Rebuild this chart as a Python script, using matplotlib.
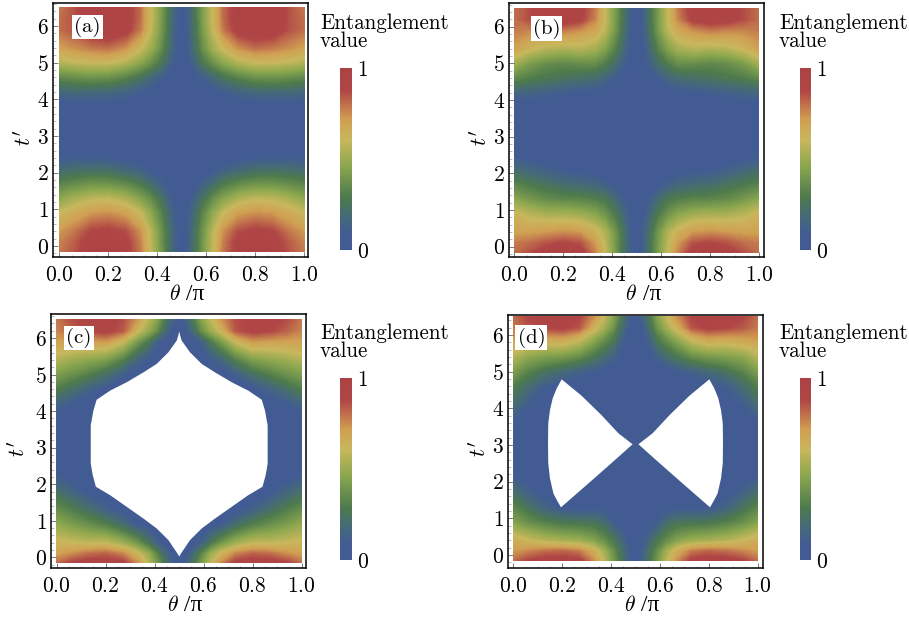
import numpy as np
import matplotlib
matplotlib.use('Agg')
from matplotlib import pyplot as plt
from matplotlib.colors import LinearSegmentedColormap
from matplotlib.cm import ScalarMappable
from matplotlib.ticker import MultipleLocator

plt.rcParams['font.family'] = ['cmr10', 'Liberation Serif']
plt.rcParams['mathtext.fontset'] = 'cm'
plt.rcParams['axes.formatter.use_mathtext'] = True
plt.rcParams['axes.unicode_minus'] = False

# grid, left half only (the panels mirror around theta = 0.5)
theta = [0, .06, .13, .2, .27, .33, .37, .41, .44, .47, .5]
t = [-.15, .1, .4, .9, 1.3, 1.7, 2.1, 2.5, 3.14, 3.8, 4.2, 4.6, 5.0, 5.4, 5.9, 6.2, 6.5]

valores_a = [
    [.78, .84, .94, .96, .92, .78, .60, .42, .27, .13, .05],
    [.76, .83, .92, .96, .91, .77, .59, .41, .27, .13, .05],
    [.72, .78, .88, .90, .86, .74, .58, .40, .26, .13, .05],
    [.60, .66, .72, .74, .70, .60, .48, .34, .22, .11, .05],
    [.46, .52, .57, .58, .53, .44, .36, .25, .16, .08, .05],
    [.32, .35, .38, .38, .34, .28, .20, .13, .08, .05, .05],
    [.18, .20, .21, .20, .16, .12, .08, .06, .05, .05, .05],
    [.06, .06, .06, .05, .05, .05, .05, .05, .05, .05, .05],
    [.05, .05, .05, .05, .05, .05, .05, .05, .05, .05, .05],
    [.05, .05, .05, .05, .05, .05, .05, .05, .05, .05, .05],
    [.16, .18, .18, .17, .14, .10, .07, .05, .05, .05, .05],
    [.34, .36, .38, .37, .32, .25, .18, .12, .08, .05, .05],
    [.55, .58, .60, .60, .55, .46, .38, .28, .18, .09, .05],
    [.70, .74, .78, .80, .74, .62, .52, .38, .25, .12, .05],
    [.80, .85, .94, .97, .92, .78, .60, .43, .28, .13, .05],
    [.80, .85, .95, .98, .94, .80, .62, .44, .29, .14, .05],
    [.78, .85, .95, .98, .94, .80, .62, .44, .29, .14, .05],
]
valores_b = [
    [.80, .85, .92, .96, .92, .76, .60, .42, .27, .13, .05],
    [.78, .80, .85, .88, .85, .72, .58, .41, .27, .13, .05],
    [.70, .70, .72, .74, .72, .64, .55, .40, .26, .13, .05],
    [.62, .56, .52, .52, .50, .45, .38, .28, .19, .09, .05],
    [.46, .40, .35, .33, .32, .30, .27, .19, .12, .07, .05],
    [.32, .28, .24, .20, .18, .16, .12, .08, .06, .05, .05],
    [.20, .16, .12, .09, .07, .06, .05, .05, .05, .05, .05],
    [.07, .06, .05, .05, .05, .05, .05, .05, .05, .05, .05],
    [.05, .05, .05, .05, .05, .05, .05, .05, .05, .05, .05],
    [.05, .05, .05, .05, .05, .05, .05, .05, .05, .05, .05],
    [.16, .14, .12, .10, .08, .07, .06, .05, .05, .05, .05],
    [.34, .30, .27, .24, .22, .20, .16, .10, .07, .05, .05],
    [.52, .42, .36, .34, .36, .36, .30, .22, .14, .07, .05],
    [.70, .62, .56, .54, .56, .52, .44, .32, .20, .10, .05],
    [.78, .76, .76, .78, .74, .68, .58, .41, .26, .12, .05],
    [.80, .86, .92, .94, .90, .76, .60, .42, .27, .13, .05],
    [.80, .86, .93, .95, .92, .78, .60, .42, .27, .13, .05],
]
valores_c = [
    [.80, .88, .92, .92, .90, .74, .58, .40, .26, .13, .05],
    [.70, .74, .80, .82, .76, .62, .50, .32, .18, .09, .05],
    [.62, .60, .58, .58, .50, .38, .26, .12, .07, .05, .05],
    [.48, .42, .36, .30, .20, .09, .06, .05, .05, .05, .05],
    [.36, .30, .22, .13, .07, .05, .05, .05, .05, .05, .05],
    [.25, .18, .10, .06, .05, .05, .05, .05, .05, .05, .05],
    [.13, .08, .05, .05, .05, .05, .05, .05, .05, .05, .05],
    [.06, .05, .05, .05, .05, .05, .05, .05, .05, .05, .05],
    [.05, .05, .05, .05, .05, .05, .05, .05, .05, .05, .05],
    [.06, .05, .05, .05, .05, .05, .05, .05, .05, .05, .05],
    [.15, .09, .06, .05, .05, .05, .05, .05, .05, .05, .05],
    [.29, .22, .14, .07, .05, .05, .05, .05, .05, .05, .05],
    [.42, .37, .30, .22, .11, .06, .05, .05, .05, .05, .05],
    [.55, .50, .46, .42, .30, .15, .09, .05, .05, .05, .05],
    [.70, .70, .70, .72, .60, .40, .28, .12, .07, .05, .05],
    [.76, .82, .88, .90, .84, .62, .50, .36, .20, .09, .05],
    [.78, .86, .90, .90, .86, .72, .58, .44, .28, .14, .05],
]
valores_d = [
    [.80, .88, .92, .92, .90, .74, .58, .40, .26, .13, .05],
    [.72, .76, .80, .82, .78, .66, .52, .36, .24, .12, .05],
    [.66, .60, .55, .52, .50, .44, .36, .27, .18, .09, .05],
    [.44, .36, .30, .26, .25, .24, .20, .10, .06, .05, .05],
    [.33, .24, .14, .08, .07, .08, .07, .05, .05, .05, .05],
    [.22, .13, .07, .05, .05, .05, .05, .05, .05, .05, .05],
    [.11, .07, .05, .05, .05, .05, .05, .05, .05, .05, .05],
    [.06, .05, .05, .05, .05, .05, .05, .05, .05, .05, .05],
    [.05, .05, .05, .05, .05, .05, .05, .05, .05, .05, .05],
    [.12, .06, .05, .05, .05, .05, .05, .05, .05, .05, .05],
    [.22, .12, .06, .05, .05, .05, .05, .05, .05, .05, .05],
    [.30, .20, .10, .07, .05, .05, .05, .05, .05, .05, .05],
    [.42, .32, .24, .18, .13, .09, .06, .05, .05, .05, .05],
    [.55, .46, .42, .40, .35, .26, .20, .13, .08, .05, .05],
    [.72, .70, .68, .70, .62, .48, .38, .28, .15, .07, .05],
    [.78, .84, .88, .90, .84, .64, .52, .38, .22, .10, .05],
    [.80, .88, .92, .93, .88, .74, .60, .44, .28, .14, .05],
]

# white holes, left side outline
buraco_c_theta = [.501, .49, .456, .408, .354, .286, .218, .163, .15, .139, .139, .147, .16, .218, .286, .354, .408, .456, .483, .501]
buraco_c_t = [6.18, 5.93, 5.61, 5.29, 5.06, 4.79, 4.56, 4.31, 4.02, 3.61, 2.56, 2.25, 1.93, 1.70, 1.38, 1.06, .79, .47, .20, .02]
buraco_d_theta = [.198, .178, .161, .15, .143, .142, .143, .15, .164, .178, .195, .307, .416, .488, .43, .36, .28]
buraco_d_t = [4.79, 4.55, 4.27, 3.95, 3.59, 3.05, 2.50, 2.09, 1.68, 1.50, 1.30, 1.95, 2.59, 3.02, 3.32, 3.82, 4.34]

paineis = ['(a)', '(b)', '(c)', '(d)']
# frame in pixels: left, right, top, bottom
molduras = [(53, 308, 3, 257), (509, 764, 3, 257), (51, 306, 314, 568), (508, 763, 315, 568)]
# pixel of theta=0, theta=1, t=0, t=6
escalas = [(59.3, 304.3, 246, 26), (514.3, 759, 246.7, 26.7), (56.7, 301.7, 557.3, 338), (513.3, 757.7, 555, 335)]
rotulos_pos = [(.115, 5.97), (.132, 5.95), (.091, 6.0), (.074, 5.93)]
rotulo_y_x = [-.07, -.07, -.085, -.07]
barras = [(340, 351.5, 68, 250), (799.5, 811, 68, 250), (340, 351.5, 378, 560), (799.5, 811, 378, 560)]
titulos_barra = [(320, 13), (779, 13), (320, 323), (779, 323)]

cores = [(0, '#425b92'), (.09, '#425b92'), (.18, '#456a78'), (.29, '#4e7a4c'), (.46, '#8aa64e'),
         (.605, '#c8b75c'), (.715, '#d0a052'), (.80, '#c0704c'), (.88, '#b04546'), (1, '#ad4244')]
cmap = LinearSegmentedColormap.from_list('emaranhamento', cores)

LARG, ALT = 909, 620

def criar_eixo(fig, caixa):
    esq, dir_, topo, base = caixa
    return fig.add_axes([esq / LARG, 1 - base / ALT, (dir_ - esq) / LARG, (base - topo) / ALT])

def desenhar_painel(fig, i, valores, buraco=None):
    ax = criar_eixo(fig, molduras[i])
    esq, dir_, topo, base = molduras[i]
    x0, x1, y0, y6 = escalas[i]
    ax.set_xlim((esq - x0) / (x1 - x0), (dir_ - x0) / (x1 - x0))
    ax.set_ylim((base - y0) / (y6 - y0) * 6, (topo - y0) / (y6 - y0) * 6)

    metade = np.array(valores)
    z = np.hstack([metade, metade[:, -2::-1]])
    x = theta + [1 - v for v in theta[-2::-1]]
    ax.contourf(x, t, z, levels=np.linspace(0, 1, 101), cmap=cmap, vmin=0, vmax=1, antialiased=False)

    if buraco is not None:
        bx, by = buraco
        ax.fill(bx, by, color='white', lw=0, zorder=3)
        ax.fill([1 - v for v in bx], by, color='white', lw=0, zorder=3)

    ax.set_xticks(np.arange(0, 1.01, .2))
    ax.set_yticks(range(7))
    ax.xaxis.set_minor_locator(MultipleLocator(.05))
    ax.yaxis.set_minor_locator(MultipleLocator(.2))
    ax.tick_params(which='major', direction='in', length=3.5, width=.6, color='#666666', labelsize=15.5, top=False, right=False)
    ax.tick_params(axis='x', which='major', pad=6)
    ax.tick_params(axis='y', which='major', pad=3)
    ax.tick_params(which='minor', direction='in', length=1.8, width=.4, color='#888888', top=False, right=False)
    for lado in ax.spines.values():
        lado.set_linewidth(1.1)
        lado.set_zorder(5)

    # theta part goes through mathtext, the upright pi is not in the cm fonts
    ax.text(.5, -.147, r'$\theta$', transform=ax.transAxes, fontsize=15.5, ha='right', va='center')
    ax.text(.5, -.147, ' /π', transform=ax.transAxes, fontsize=17, ha='left', va='center', family='Liberation Serif')
    ax.set_ylabel(r"$t'$", fontsize=16)
    ax.yaxis.set_label_coords(rotulo_y_x[i], .47)

    px, py = rotulos_pos[i]
    ax.text(px, py, paineis[i], fontsize=15, ha='center', va='center', zorder=6,
            bbox=dict(facecolor='white', edgecolor='none', pad=1.5))

    cax = criar_eixo(fig, barras[i])
    barra = fig.colorbar(ScalarMappable(cmap=cmap, norm=plt.Normalize(0, 1)), cax=cax, ticks=[0, 1])
    barra.outline.set_visible(False)
    barra.ax.tick_params(length=0, labelsize=15.5, pad=4)
    barra.ax.set_yticklabels(['0', '1'])

    tx, ty = titulos_barra[i]
    fig.text(tx / LARG, 1 - ty / ALT, 'Entanglement\nvalue', fontsize=15.2, ha='left', va='top', linespacing=.95)

def main():
    fig = plt.figure(figsize=(LARG / 100, ALT / 100), dpi=100)
    desenhar_painel(fig, 0, valores_a)
    desenhar_painel(fig, 1, valores_b)
    desenhar_painel(fig, 2, valores_c, (buraco_c_theta, buraco_c_t))
    desenhar_painel(fig, 3, valores_d, (buraco_d_theta, buraco_d_t))
    fig.savefig('out.png', dpi=100)

if __name__ == "__main__":
    main()
